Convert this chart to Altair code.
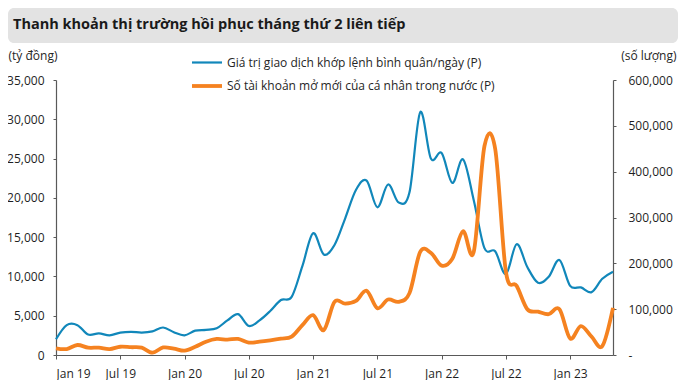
import json
import altair as alt
import pandas as pd

TITLE = "Thanh khoản thị trường hồi phục tháng thứ 2 liên tiếp"
SERIES = [
    "Giá trị giao dịch khớp lệnh bình quân/ngày (P)",
    "Số tài khoản mở mới của cá nhân trong nước (P)",
]
LEFT_TITLE = "(tỷ đồng)"
RIGHT_TITLE = "(số lượng)"
TICK_LABELS = ["Jan 19", "Jul 19", "Jan 20", "Jul 20", "Jan 21",
               "Jul 21", "Jan 22", "Jul 22", "Jan 23"]
# month index: 0 = Jan 19 ... 52 = May 23
MONTHS = list(range(53))

# average daily matched value (bn VND), left axis
matched_value = [2000, 3800, 3800, 2600, 2750, 2500, 2850, 2950, 2850, 3000,
                 3500, 2900, 2500, 3100, 3200, 3400, 4400, 5200, 3700, 4400,
                 5600, 7000, 7400, 11300, 15500, 12800, 14000, 17400, 21000, 22200,
                 18800, 21700, 19400, 20700, 30900, 25000, 25700, 21900, 24900, 19700,
                 13600, 13200, 10300, 14100, 11200, 9200, 9950, 12100, 8800, 8600,
                 8000, 9700, 10600]
# new individual domestic accounts, right axis
new_accounts = [14500, 13000, 21800, 16000, 16000, 13000, 18000, 17000, 16000, 5000,
                16500, 14000, 9500, 18000, 29000, 35000, 33500, 35000, 27000, 29000,
                32000, 35600, 40000, 65000, 87000, 54500, 116000, 112000, 118000, 140000,
                102000, 121000, 116000, 135000, 225000, 223000, 195000, 210000, 270000, 225000,
                456000, 450000, 182000, 151000, 100000, 94500, 89000, 100000, 36000, 63000,
                40000, 19600, 103000]

COLORS = ["#1187BA", "#F58220"]
WIDTHS = [2.2, 3.8]

df = pd.DataFrame({
    "month": MONTHS + MONTHS,
    "v": matched_value + new_accounts,
    "series": [SERIES[0]] * len(MONTHS) + [SERIES[1]] * len(MONTHS),
})

FONT = "Open Sans"

legend = alt.Legend(
    orient="none", legendX=134, legendY=-34, direction="vertical", title=None,
    symbolType="stroke", symbolSize=900, labelFont=FONT, labelFontSize=12,
    labelColor="#262626", labelOffset=3, rowPadding=-7, padding=0, labelLimit=500,
)
color = alt.Color("series:N", scale=alt.Scale(domain=SERIES, range=COLORS), legend=legend)
swidth = alt.StrokeWidth("series:N", scale=alt.Scale(domain=SERIES, range=WIDTHS), legend=legend)

x_enc = alt.X(
    "month:Q",
    scale=alt.Scale(domain=[0, 52], nice=False, zero=False),
    axis=alt.Axis(values=list(range(0, 49, 6)),
                  labelExpr=f"{json.dumps(TICK_LABELS)}[datum.value / 6]",
                  title=None, grid=False, tickSize=4, labelPadding=9),
)

left = alt.Chart(df).transform_filter(
    alt.datum.series == SERIES[0]
).mark_line(interpolate="cardinal").encode(
    x=x_enc,
    y=alt.Y("v:Q", scale=alt.Scale(domain=[0, 35000], nice=False),
            axis=alt.Axis(orient="left", values=list(range(0, 35001, 5000)),
                          labelExpr="format(datum.value, ',')",
                          title=LEFT_TITLE, titleAngle=0, titleX=-48, titleY=-21,
                          titleAlign="left", titleBaseline="alphabetic",
                          titleFontWeight="normal", titleFontSize=12, titleFont=FONT,
                          titleColor="#262626", grid=False, tickSize=3, labelPadding=9)),
    color=color,
    strokeWidth=swidth,
)

right = alt.Chart(df).transform_filter(
    alt.datum.series == SERIES[1]
).mark_line(interpolate="cardinal").encode(
    x=x_enc,
    y=alt.Y("v:Q", scale=alt.Scale(domain=[0, 600000], nice=False),
            axis=alt.Axis(orient="right", values=list(range(0, 600001, 100000)),
                          labelExpr="datum.value == 0 ? '-' : format(datum.value, ',')",
                          title=RIGHT_TITLE, titleAngle=0, titleX=63, titleY=-21,
                          titleAlign="right", titleBaseline="alphabetic",
                          titleFontWeight="normal", titleFontSize=12, titleFont=FONT,
                          titleColor="#262626", grid=False, tickSize=3, labelPadding=12)),
    color=color,
    strokeWidth=swidth,
)

title_df = pd.DataFrame({"t": [TITLE]})
box = alt.Chart(title_df).mark_rect(color="#E3E3E3", cornerRadius=6).encode(
    x=alt.value(-48), x2=alt.value(622), y=alt.value(-72), y2=alt.value(-37)
)
title = alt.Chart(title_df).mark_text(
    align="left", baseline="middle", font=FONT, fontSize=14.5, fontWeight="bold",
    color="#1a1a1a"
).encode(x=alt.value(-43), y=alt.value(-55), text="t:N")

chart = alt.layer(box, title, left, right).resolve_scale(
    y="independent"
).properties(
    width=557, height=275,
    autosize=alt.AutoSizeParams(type="none"),
    padding={"left": 48, "top": 72, "right": 67, "bottom": 25},
).configure_view(stroke=None).configure_axis(
    labelFont=FONT, labelFontSize=12, labelColor="#1f1f1f",
    domainColor="#595959", tickColor="#595959", domainWidth=1.2,
)

chart.save("out.html", embed_options={"renderer": "svg", "actions": False})
